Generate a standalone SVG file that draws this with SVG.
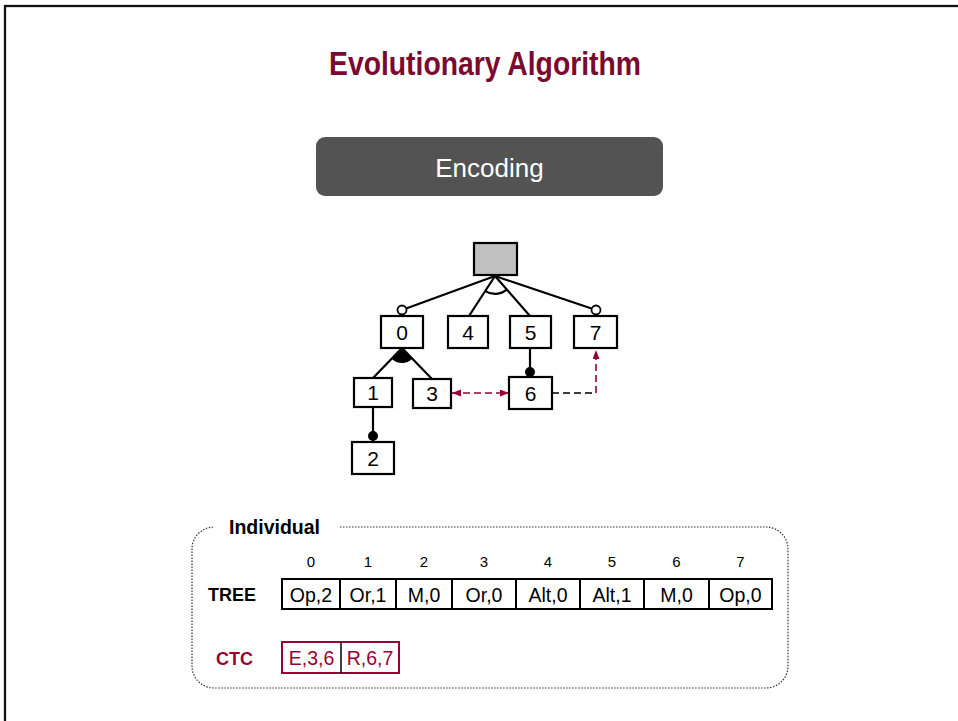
<svg xmlns="http://www.w3.org/2000/svg" width="958" height="721" viewBox="0 0 958 721">
  <style>
    .box { fill: #fff; stroke: #000; stroke-width: 2.2; }
    .lbl { font-family: "Liberation Sans", Arial, sans-serif; font-size: 21px; text-anchor: middle; fill: #000; }
    .edge { stroke: #000; stroke-width: 2.2; fill: none; }
    .dash-red { stroke: #990033; stroke-width: 1.6; stroke-dasharray: 7 4; fill: none; }
    .dash-blk { stroke: #000; stroke-width: 1.6; stroke-dasharray: 7 4; fill: none; }
    .cell { fill: #fff; stroke: #000; stroke-width: 2; }
    .ctext { font-family: "Liberation Sans", Arial, sans-serif; font-size: 19.5px; text-anchor: middle; fill: #000; }
    .idx { font-family: "Liberation Sans", Arial, sans-serif; font-size: 15px; text-anchor: middle; fill: #000; }
    .bold { font-family: "Liberation Sans", Arial, sans-serif; font-weight: bold; }
  </style>
  <defs>
    <marker id="arrowRed" markerUnits="userSpaceOnUse" markerWidth="10" markerHeight="8" refX="9" refY="3.5" orient="auto-start-reverse">
      <path d="M0,0 L9,3.5 L0,7 Z" fill="#990033"/>
    </marker>
  </defs>

  <!-- page frame -->
  <rect x="5" y="6" width="1000" height="800" fill="#fff" stroke="#111" stroke-width="2.3"/>

  <!-- title -->
  <text x="485" y="75" class="bold" font-size="33" fill="#7A0A30" text-anchor="middle" textLength="312" lengthAdjust="spacingAndGlyphs">Evolutionary Algorithm</text>

  <!-- section banner -->
  <g id="banner">
    <rect x="316" y="137" width="347" height="59" rx="9" fill="#535353"/>
    <text x="489.5" y="177" font-family="Liberation Sans, Arial, sans-serif" font-size="26" fill="#fff" text-anchor="middle">Encoding</text>
  </g>

  <!-- feature tree connectors -->
  <g id="connectors">
    <line class="edge" x1="495" y1="276" x2="402" y2="310"/>
    <line class="edge" x1="495" y1="276" x2="469" y2="316"/>
    <line class="edge" x1="495" y1="276" x2="530" y2="316"/>
    <line class="edge" x1="495" y1="276" x2="596" y2="310"/>
    <path class="edge" stroke-width="1.6" d="M485.4,291.1 A18,18 0 0 0 506.7,289.7"/>
    <circle cx="402" cy="310" r="4.5" fill="#fff" stroke="#000" stroke-width="1.8"/>
    <circle cx="596" cy="310" r="4.5" fill="#fff" stroke="#000" stroke-width="1.8"/>

    <line class="edge" x1="402" y1="348" x2="373" y2="378"/>
    <line class="edge" x1="402" y1="348" x2="432" y2="379"/>
    <path d="M402,348 L391.6,358.8 A15,15 0 0 0 412.4,358.8 Z" fill="#000"/>

    <line class="edge" x1="530" y1="348" x2="530" y2="377"/>
    <circle cx="530" cy="372" r="5" fill="#000"/>
    <line class="edge" x1="373" y1="407" x2="373" y2="442"/>
    <circle cx="373" cy="436" r="5" fill="#000"/>

    <line class="dash-red" x1="452" y1="393" x2="509" y2="393" marker-start="url(#arrowRed)" marker-end="url(#arrowRed)"/>
    <path class="dash-blk" d="M552,393 H596"/>
    <path class="dash-red" d="M596,393 V350" marker-end="url(#arrowRed)"/>
  </g>

  <!-- feature tree nodes -->
  <g id="node-root"><rect x="474" y="243" width="43" height="32" fill="#C0C0C0" stroke="#000" stroke-width="2.2"/></g>
  <g id="node-0"><rect class="box" x="381" y="316" width="42" height="32"/><text class="lbl" x="402" y="339.5">0</text></g>
  <g id="node-4"><rect class="box" x="448" y="316" width="40" height="32"/><text class="lbl" x="468" y="339.5">4</text></g>
  <g id="node-5"><rect class="box" x="510" y="316" width="41" height="32"/><text class="lbl" x="530.5" y="339.5">5</text></g>
  <g id="node-7"><rect class="box" x="574" y="316" width="43" height="32"/><text class="lbl" x="595.5" y="339.5">7</text></g>
  <g id="node-1"><rect class="box" x="354" y="378" width="38" height="29"/><text class="lbl" x="373" y="400">1</text></g>
  <g id="node-3"><rect class="box" x="413" y="379" width="38" height="29"/><text class="lbl" x="432" y="401">3</text></g>
  <g id="node-6"><rect class="box" x="509" y="377" width="43" height="32"/><text class="lbl" x="530.5" y="400.5">6</text></g>
  <g id="node-2"><rect class="box" x="352" y="442" width="42" height="32"/><text class="lbl" x="373" y="465.5">2</text></g>

  <!-- individual encoding -->
  <g id="individual">
    <rect x="192" y="527" width="596" height="161" rx="22" fill="none" stroke="#333" stroke-width="1.2" stroke-dasharray="1.5 1.5"/>
    <rect x="213" y="518" width="127" height="18" fill="#fff"/>
    <text x="229" y="534" class="bold" font-size="19.5" fill="#000">Individual</text>

    <text x="208" y="601" class="bold" font-size="18" fill="#000">TREE</text>
    <text x="216" y="665" class="bold" font-size="18" fill="#990033">CTC</text>

    <g id="tree-index">
      <text class="idx" x="311" y="567">0</text>
      <text class="idx" x="368" y="567">1</text>
      <text class="idx" x="424" y="567">2</text>
      <text class="idx" x="484" y="567">3</text>
      <text class="idx" x="548" y="567">4</text>
      <text class="idx" x="612" y="567">5</text>
      <text class="idx" x="676.5" y="567">6</text>
      <text class="idx" x="740.5" y="567">7</text>
    </g>

    <g id="tree-cells">
      <rect class="cell" x="282" y="579" width="490" height="30"/>
      <path d="M340,579 V609 M396,579 V609 M452,579 V609 M516,579 V609 M580,579 V609 M644,579 V609 M709,579 V609" stroke="#000" stroke-width="2"/>
      <text class="ctext" x="311" y="601.5">Op,2</text>
      <text class="ctext" x="368" y="601.5">Or,1</text>
      <text class="ctext" x="424" y="601.5">M,0</text>
      <text class="ctext" x="484" y="601.5">Or,0</text>
      <text class="ctext" x="548" y="601.5">Alt,0</text>
      <text class="ctext" x="612" y="601.5">Alt,1</text>
      <text class="ctext" x="676.5" y="601.5">M,0</text>
      <text class="ctext" x="740.5" y="601.5">Op,0</text>
    </g>

    <g id="ctc-cells">
      <rect x="282" y="642" width="117" height="31" fill="#fff" stroke="#990033" stroke-width="2"/>
      <line x1="341" y1="642" x2="341" y2="673" stroke="#000" stroke-width="1.5"/>
      <text class="ctext" x="311.5" y="665" style="fill:#990033">E,3,6</text>
      <text class="ctext" x="370" y="665" style="fill:#990033">R,6,7</text>
    </g>
  </g>
</svg>
